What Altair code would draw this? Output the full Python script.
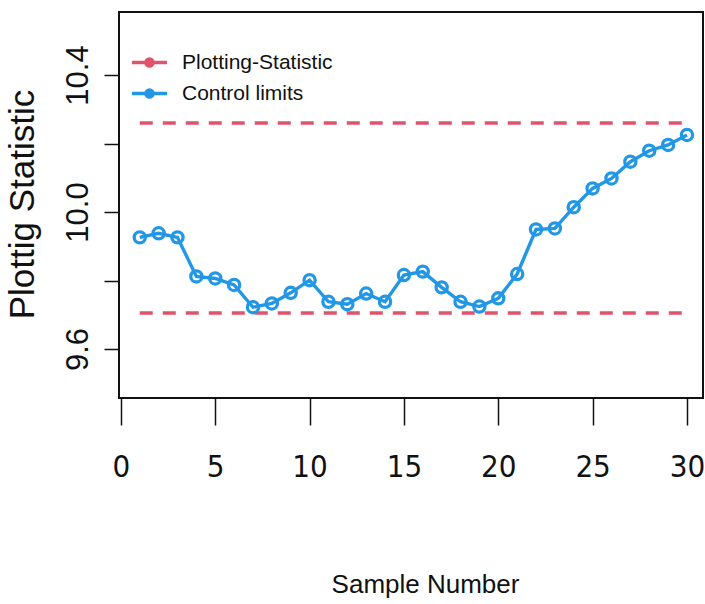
import altair as alt
import pandas as pd

# ---- data ----
sample = list(range(1, 31))
statistic = [9.926, 9.938, 9.926, 9.812, 9.806, 9.787, 9.722, 9.733, 9.764, 9.801,
             9.738, 9.731, 9.762, 9.738, 9.816, 9.826, 9.780, 9.738, 9.724, 9.748,
             9.819, 9.949, 9.952, 10.014, 10.069, 10.098, 10.147, 10.179, 10.196, 10.225]
limit_values = [10.26, 9.705]
limit_start = [1, 1]
limit_end = [30, 30]
x_ticks = [0, 5, 10, 15, 20, 25, 30]
y_ticks = [9.6, 9.8, 10.0, 10.2, 10.4]
legend_labels = ["Plotting-Statistic", "Control limits"]
legend_colors = ["#DF536B", "#2297E6"]

df = pd.DataFrame({"sample": sample, "stat": statistic})
lim = pd.DataFrame({"start": limit_start, "end": limit_end, "value": limit_values})

NARROW = "Liberation Sans Narrow, Arial Narrow, DejaVu Sans Condensed, Liberation Sans, sans-serif"
SANS = "Liberation Sans, Arial, sans-serif"

xscale = alt.Scale(domain=[-0.1, 30.85], nice=False, zero=False)
yscale = alt.Scale(domain=[9.457, 10.584], nice=False, zero=False)

color_scale = alt.Scale(domain=legend_labels, range=legend_colors)

x_axis = alt.Axis(values=x_ticks, title="Sample Number", grid=False, domain=False,
                  tickSize=27, tickWidth=1.5, tickColor="#111",
                  labelFont=NARROW, labelFontSize=31, labelColor="#111",
                  labelPadding=27, labelFlush=False,
                  titleFont=SANS, titleFontSize=26, titleFontWeight="normal",
                  titleColor="#111", titleX=306, titleY=194, titleAlign="center",
                  titleBaseline="alphabetic")

y_axis = alt.Axis(values=y_ticks, title="Plottig Statistic", grid=False, domain=False,
                  tickSize=15, tickWidth=1.5, tickColor="#111",
                  labelExpr="indexof(['9.6','10.0','10.4'], format(datum.value, '.1f')) >= 0 ? format(datum.value, '.1f') : ''",
                  labelAngle=270, labelAlign="center", labelBaseline="alphabetic",
                  labelFont=SANS, labelFontSize=31, labelColor="#111", labelPadding=17,
                  labelFlush=False, labelOverlap=False,
                  titleFont=SANS, titleFontSize=35, titleFontWeight="normal",
                  titleColor="#111", titleAngle=270, titleX=-86, titleY=192,
                  titleAlign="center", titleBaseline="alphabetic")

legend = alt.Legend(title=None, orient="none", legendX=11, legendY=31,
                    symbolType="M-1,0L1,0M-0.2,0A0.2,0.2 0 1,0 0.2,0A0.2,0.2 0 1,0 -0.2,0",
                    symbolSize=1225, symbolStrokeWidth=3.5, rowPadding=1,
                    labelFont=SANS, labelFontSize=21, labelColor="#111",
                    labelOffset=13, labelLimit=300)

limits = alt.Chart(lim).mark_rule(strokeDash=[13, 10], strokeWidth=3.5).encode(
    x=alt.X("start:Q", scale=xscale, axis=x_axis),
    x2="end:Q",
    y=alt.Y("value:Q", scale=yscale, axis=y_axis),
    color=alt.Color("series:N", scale=color_scale, legend=legend),
).transform_calculate(series="'Plotting-Statistic'")

line = alt.Chart(df).mark_line(strokeWidth=3.4).encode(
    x=alt.X("sample:Q", scale=xscale),
    y=alt.Y("stat:Q", scale=yscale),
    color=alt.Color("series:N", scale=color_scale, legend=legend),
).transform_calculate(series="'Control limits'")

points = alt.Chart(df).mark_point(filled=False, size=125, strokeWidth=3.3, opacity=1).encode(
    x=alt.X("sample:Q", scale=xscale),
    y=alt.Y("stat:Q", scale=yscale),
    color=alt.Color("series:N", scale=color_scale, legend=legend),
).transform_calculate(series="'Control limits'")

chart = alt.layer(limits, line, points).properties(
    width=584, height=386, autosize="none",
    padding={"left": 119, "top": 12, "right": 2, "bottom": 206},
    background="white",
).configure_view(stroke="#111", strokeWidth=2)

chart.save("out.html", embed_options={"renderer": "svg", "actions": False})
